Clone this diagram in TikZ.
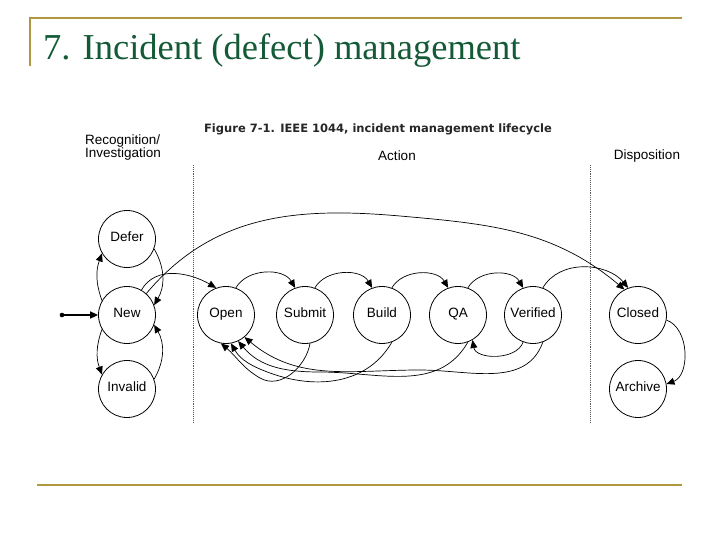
\documentclass[tikz,border=0pt]{standalone}
\usepackage{fontspec}
\setmainfont{Liberation Serif}
\newfontfamily\arial{Liberation Sans}
\newfontfamily\verd{DejaVu Sans}
\usetikzlibrary{arrows.meta}
\begin{document}
\begin{tikzpicture}[x=1pt,y=-1pt,
 st/.style={circle,draw,line width=0.8pt,minimum size=57pt,inner sep=0pt,text height=1.6ex,text depth=0.3ex,font=\arial\fontsize{13.5}{14}\selectfont},
 ar/.style={-{Triangle[length=8pt,width=7pt]},line width=0.7pt},
 lbl/.style={font=\arial\fontsize{13.5}{13}\selectfont,align=left},
 sep/.style={densely dotted,line width=0.9pt,gray!70!black}]
\useasboundingbox (0,0) rectangle (720,540);
\definecolor{gold}{RGB}{176,152,64}
\definecolor{tgreen}{RGB}{20,90,55}
\draw[gold,line width=1.2pt] (30,66) -- (30,18) -- (682,18);
\draw[gold,line width=1.2pt] (37,485) -- (682,485);
\node[anchor=base west,text=tgreen,font=\fontsize{36.5}{38}\selectfont,inner sep=0pt] (title) at (43,60) {7. Incident (defect) management};
\node[font=\verd\bfseries\fontsize{11.5}{13}\selectfont,text=black!85] (fig) at (378,129) {Figure 7-1. IEEE 1044, incident management lifecycle};
\node[lbl] (h1) at (123,148) {Recognition/\\Investigation};
\node[lbl] (h2) at (397,156) {Action};
\node[lbl] (h3) at (647,156) {Disposition};
\coordinate (d1a) at (193,165); \coordinate (d1b) at (193,422);
\coordinate (d2a) at (590,165); \coordinate (d2b) at (590,422);
\draw[sep] (d1a) -- (d1b); \draw[sep] (d2a) -- (d2b);
\node[st] (defer) at (127,239) {Defer};
\node[st] (new) at (127,315) {New};
\node[st] (invalid) at (127,389) {Invalid};
\node[st] (open) at (226,315) {Open};
\node[st] (submit) at (305,315) {Submit};
\node[st] (build) at (382,315) {Build};
\node[st] (qa) at (458,315) {QA};
\node[st] (ver) at (533,315) {Verified};
\node[st] (closed) at (638,315) {Closed};
\node[st] (archive) at (638,389) {Archive};
\coordinate (start) at (62,315);
\fill (start) circle (2.3pt);
\draw[ar,line width=1.6pt] (start) -- (new);
\draw[ar] (new.150) to[out=110,in=-110] (defer.210);
\draw[ar] (new.210) to[out=-110,in=110] (invalid.150);
\draw[ar] (defer.-20) to[out=-60,in=60] (new.20);
\draw[ar] (invalid.20) to[out=60,in=-60] (new.-20);
\draw[ar] (new.60) to[out=60,in=150] (open.110);
\draw[ar] (new.48) to[out=50,in=175] (400,216) to[out=-5,in=140] (closed.118);
\draw[ar] (open.70) to[out=60,in=120] (submit.110);
\draw[ar] (submit.70) to[out=60,in=120] (build.110);
\draw[ar] (build.70) to[out=60,in=120] (qa.110);
\draw[ar] (qa.70) to[out=60,in=120] (ver.110);
\draw[ar] (ver.70) to[out=60,in=130] (closed.110);
\draw[ar] (submit.-80) to[out=-100,in=-30] (260,378) to[out=150,in=-40] (open.-100);
\draw[ar] (build.-70) to[out=-120,in=-20] (270,373) to[out=160,in=-60] (open.-80);
\draw[ar] (qa.-70) to[out=-120,in=0] (320,372) to[out=180,in=-50] (open.-65);
\draw[ar] (ver.-110) to[out=-110,in=-80] (qa.-60);
\draw[ar] (ver.-70) to[out=-110,in=0] (420,370) to[out=180,in=-40] (open.-50);
\draw[ar] (closed.-10) to[out=-20,in=20] (archive.10);
\end{tikzpicture}
\end{document}
